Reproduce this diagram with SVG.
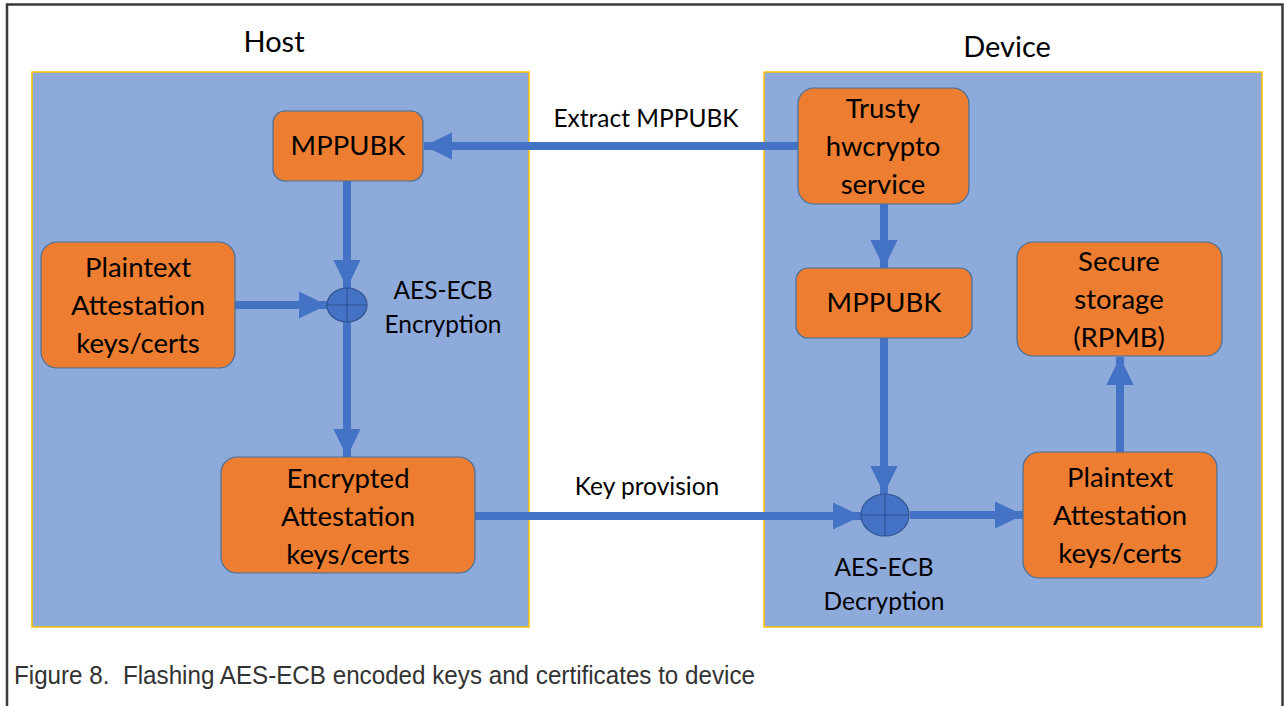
<svg xmlns="http://www.w3.org/2000/svg" width="1285" height="706" viewBox="0 0 1285 706">
<defs>
<style>
.panel{fill:#8EAADB;stroke:#FFC000;stroke-width:1.5}
.node{fill:#ED7D31;stroke:#41719C;stroke-width:1.2}
.t{font-family:Lato,"Open Sans",sans-serif;font-size:27.5px;fill:#000;text-anchor:middle}
.lbl{font-family:Lato,"Open Sans",sans-serif;font-size:24.5px;fill:#000;text-anchor:middle}
.ttl{font-family:Lato,"Open Sans",sans-serif;font-size:29px;fill:#000;text-anchor:middle}
.c{stroke:#4472C4;stroke-width:8;fill:none}
.xor{fill:#4472C4;stroke:#2F528F;stroke-width:1.2}
</style>
<marker id="ah" viewBox="0 0 10 10" refX="10" refY="5" markerWidth="3.5" markerHeight="3.4" markerUnits="strokeWidth" orient="auto" preserveAspectRatio="none">
<path d="M0,0 L10,5 L0,10 z" fill="#4472C4"/>
</marker>
</defs>
<rect x="0" y="0" width="1285" height="706" fill="#fff"/>
<path d="M7,720 V4.5 H1282.5 V720" fill="none" stroke="#3a3a3a" stroke-width="2.5"/>
<text class="ttl" x="274" y="52">Host</text>
<text class="ttl" x="1007" y="57">Device</text>
<rect class="panel" x="32" y="72" width="497" height="555"/>
<rect class="panel" x="764" y="72" width="498" height="555"/>

<g id="connectors">
<line class="c" x1="798" y1="146" x2="424" y2="146" marker-end="url(#ah)"/>
<line class="c" x1="347" y1="181" x2="347" y2="288" marker-end="url(#ah)"/>
<line class="c" x1="235" y1="305" x2="327" y2="305" marker-end="url(#ah)"/>
<line class="c" x1="347" y1="322" x2="347" y2="457" marker-end="url(#ah)"/>
<line class="c" x1="475" y1="516" x2="861" y2="516" marker-end="url(#ah)"/>
<line class="c" x1="884" y1="197" x2="884" y2="268" marker-end="url(#ah)"/>
<line class="c" x1="884" y1="338" x2="884" y2="494" marker-end="url(#ah)"/>
<line class="c" x1="910" y1="515" x2="1023" y2="515" marker-end="url(#ah)"/>
<line class="c" x1="1120" y1="452" x2="1120" y2="357" marker-end="url(#ah)"/>
<text class="lbl" x="646" y="127">Extract MPPUBK</text>
<text class="lbl" x="647" y="495">Key provision</text>
</g>

<g id="host-mppubk">
<rect class="node" x="273" y="111" width="150" height="70" rx="12"/>
<text class="t" x="348" y="155">MPPUBK</text>
</g>
<g id="host-plaintext">
<rect class="node" x="41" y="242" width="194" height="126" rx="16"/>
<text class="t" x="138" y="277">Plaintext</text>
<text class="t" x="138" y="315">Attestation</text>
<text class="t" x="138" y="353">keys/certs</text>
</g>
<g id="host-xor">
<ellipse class="xor" cx="347" cy="305" rx="20" ry="17"/>
<path d="M327,305 H367 M347,288 V322" stroke="#2F528F" stroke-width="1.2"/>
<text class="lbl" x="443" y="299">AES-ECB</text>
<text class="lbl" x="443" y="333">Encryption</text>
</g>
<g id="host-encrypted">
<rect class="node" x="221" y="457" width="254" height="116" rx="16"/>
<text class="t" x="348" y="488">Encrypted</text>
<text class="t" x="348" y="526">Attestation</text>
<text class="t" x="348" y="564">keys/certs</text>
</g>
<g id="dev-trusty">
<rect class="node" x="798" y="88" width="171" height="116" rx="16"/>
<text class="t" x="883" y="118">Trusty</text>
<text class="t" x="883" y="156">hwcrypto</text>
<text class="t" x="883" y="194">service</text>
</g>
<g id="dev-mppubk">
<rect class="node" x="796" y="268" width="176" height="70" rx="12"/>
<text class="t" x="884" y="312">MPPUBK</text>
</g>
<g id="dev-secure">
<rect class="node" x="1017" y="242" width="205" height="114" rx="16"/>
<text class="t" x="1119" y="271">Secure</text>
<text class="t" x="1119" y="309">storage</text>
<text class="t" x="1119" y="347">(RPMB)</text>
</g>
<g id="dev-xor">
<ellipse class="xor" cx="885" cy="515" rx="24" ry="21"/>
<path d="M861,515 H909 M885,494 V536" stroke="#2F528F" stroke-width="1.2"/>
<text class="lbl" x="884" y="576">AES-ECB</text>
<text class="lbl" x="884" y="610">Decryption</text>
</g>
<g id="dev-plaintext">
<rect class="node" x="1023" y="452" width="194" height="126" rx="16"/>
<text class="t" x="1120" y="487">Plaintext</text>
<text class="t" x="1120" y="525">Attestation</text>
<text class="t" x="1120" y="563">keys/certs</text>
</g>
<text x="14" y="684" xml:space="preserve" font-family="Liberation Sans,Arial,sans-serif" font-size="25" fill="#333" textLength="741" lengthAdjust="spacingAndGlyphs">Figure 8.  Flashing AES-ECB encoded keys and certificates to device</text>
</svg>
